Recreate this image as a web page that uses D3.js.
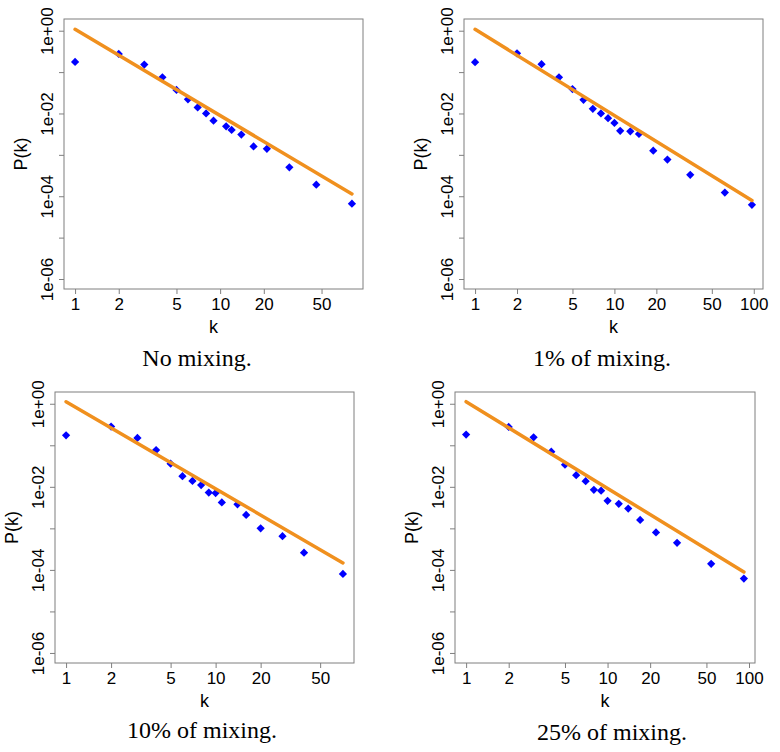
<!DOCTYPE html>
<html>
<head>
    <meta charset="utf-8">
    <title>Degree distribution P(k) under mixing</title>
    <script src="https://d3js.org/d3.v7.min.js"></script>
    <style>
        body { margin: 0; background: white; }
        svg { display: block; }
    </style>
</head>
<body>
<svg width="780" height="752"></svg>
<script>
    // Degree k and observed P(k), one pair of arrays per panel
    const k1 = [1, 2, 3, 4, 5, 6, 7, 8, 9, 11, 12, 14, 17, 21, 30, 46, 81];
    const p1 = [0.176, 0.275, 0.152, 0.075, 0.037, 0.022, 0.014, 0.010, 0.0067, 0.0049, 0.0040, 0.0031, 0.0016, 0.0014, 0.0005, 0.00019, 0.000066];

    const k2 = [1, 2, 3, 4, 5, 6, 7, 8, 9, 10, 11, 13, 15, 19, 24, 35, 62, 97];
    const p2 = [0.173, 0.285, 0.155, 0.075, 0.039, 0.0214, 0.013, 0.010, 0.0077, 0.0059, 0.0038, 0.0037, 0.0032, 0.00126, 0.00077, 0.00033, 0.000123, 0.000062];

    const k3 = [1, 2, 3, 4, 5, 6, 7, 8, 9, 10, 11, 14, 16, 20, 28, 39, 71];
    const p3 = [0.174, 0.282, 0.150, 0.077, 0.036, 0.018, 0.0139, 0.011, 0.0073, 0.0071, 0.0042, 0.0038, 0.0021, 0.0010, 0.00065, 0.00026, 0.00008];

    const k4 = [1, 2, 3, 4, 5, 6, 7, 8, 9, 10, 12, 14, 17, 22, 31, 54, 92];
    const p4 = [0.181, 0.277, 0.156, 0.070, 0.034, 0.019, 0.0137, 0.0085, 0.0081, 0.0046, 0.0039, 0.0030, 0.0016, 0.0008, 0.00045, 0.00014, 0.000062];

    // Fitted power-law lines (end points)
    const fitK1 = [1, 81], fitP1 = [1.08, 1.14e-4];
    const fitK2 = [1, 97], fitP2 = [1.08, 7.9e-5];
    const fitK3 = [1, 71], fitP3 = [1.12, 1.47e-4];
    const fitK4 = [1, 92], fitP4 = [1.12, 8.9e-5];

    // Tick values and labels
    const xTicksSmall = [1, 2, 5, 10, 20, 50];
    const xTicksLarge = [1, 2, 5, 10, 20, 50, 100];
    const yTicks = [1, 1e-1, 1e-2, 1e-3, 1e-4, 1e-5, 1e-6];
    const yTickLabels = { 0: "1e+00", 2: "1e-02", 4: "1e-04", 6: "1e-06" };
    const yLim = [1e-6, 1.1];

    const captions = ["No mixing.", "1% of mixing.", "10% of mixing.", "25% of mixing."];

    // Layout of each panel (plot box in page pixels, caption position)
    const panels = [
        { k: k1, p: p1, fk: fitK1, fp: fitP1, xt: xTicksSmall, cap: captions[0],
          box: [64, 19, 363, 289], capX: 197, capY: 366 },
        { k: k2, p: p2, fk: fitK2, fp: fitP2, xt: xTicksLarge, cap: captions[1],
          box: [464, 19, 763, 289], capX: 602, capY: 366 },
        { k: k3, p: p3, fk: fitK3, fp: fitP3, xt: xTicksSmall, cap: captions[2],
          box: [55, 392, 354, 663], capX: 202, capY: 738 },
        { k: k4, p: p4, fk: fitK4, fp: fitP4, xt: xTicksLarge, cap: captions[3],
          box: [455, 392, 755, 663], capX: 612, capY: 740 }
    ];

    const svg = d3.select("svg");
    const boxColor = "#7f7f7f";
    const sans = "Liberation Sans, Arial, sans-serif";
    const serif = "Liberation Serif, Times New Roman, serif";

    // R-style 4% padding on a log range
    function padLog(lo, hi) {
        const a = Math.log10(lo), b = Math.log10(hi), d = (b - a) * 0.04;
        return [Math.pow(10, a - d), Math.pow(10, b + d)];
    }

    panels.forEach(pn => {
        const [x0, y0, x1, y1] = pn.box;

        const x = d3.scaleLog()
            .domain(padLog(d3.min(pn.k), d3.max(pn.k)))
            .range([x0, x1]);
        const y = d3.scaleLog()
            .domain(padLog(yLim[0], yLim[1]))
            .range([y1, y0]);

        const g = svg.append("g");

        // x axis
        const xAxis = g.append("g")
            .attr("transform", `translate(0,${y1})`)
            .call(d3.axisBottom(x).tickValues(pn.xt).tickFormat(d3.format("d"))
                .tickSize(5).tickSizeOuter(0).tickPadding(4));
        xAxis.attr("font-family", sans).attr("font-size", 17);
        xAxis.select(".domain").remove();
        xAxis.selectAll(".tick line").attr("stroke", boxColor);
        xAxis.selectAll(".tick text").attr("fill", "#000");

        // y axis with rotated labels
        const yAxis = g.append("g")
            .attr("transform", `translate(${x0},0)`)
            .call(d3.axisLeft(y).tickValues(yTicks)
                .tickFormat((d, j) => yTickLabels[j] || "")
                .tickSize(5).tickSizeOuter(0));
        yAxis.attr("font-family", sans).attr("font-size", 17);
        yAxis.select(".domain").remove();
        yAxis.selectAll(".tick line").attr("stroke", boxColor);
        yAxis.selectAll(".tick text")
            .attr("fill", "#000")
            .attr("x", null).attr("dy", null)
            .attr("text-anchor", "middle")
            .attr("transform", "translate(-11,0) rotate(-90)");

        // data points (filled diamonds)
        g.append("g").selectAll("path")
            .data(pn.k.map((kv, j) => ({ k: kv, p: pn.p[j] })))
            .join("path")
            .attr("d", d3.symbol(d3.symbolSquare, 34))
            .attr("transform", d => `translate(${x(d.k)},${y(d.p)}) rotate(45)`)
            .attr("fill", "#0000ff");

        // fitted line
        g.append("path")
            .datum(pn.fk.map((kv, j) => ({ k: kv, p: pn.fp[j] })))
            .attr("fill", "none")
            .attr("stroke", "#f0901e")
            .attr("stroke-width", 3.5)
            .attr("stroke-linecap", "round")
            .attr("d", d3.line().x(d => x(d.k)).y(d => y(d.p)));

        // plot box
        g.append("rect")
            .attr("x", x0).attr("y", y0)
            .attr("width", x1 - x0).attr("height", y1 - y0)
            .attr("fill", "none")
            .attr("stroke", boxColor);

        // axis labels
        g.append("text")
            .attr("font-family", sans).attr("font-size", 18)
            .attr("x", (x0 + x1) / 2).attr("y", y1 + 44)
            .attr("text-anchor", "middle")
            .text("k");
        g.append("text")
            .attr("font-family", sans).attr("font-size", 18)
            .attr("transform", `translate(${x0 - 37},${(y0 + y1) / 2}) rotate(-90)`)
            .attr("text-anchor", "middle")
            .text("P(k)");

        // caption under the panel
        g.append("text")
            .attr("font-family", serif).attr("font-size", 24)
            .attr("x", pn.capX).attr("y", pn.capY)
            .attr("text-anchor", "middle")
            .text(pn.cap);
    });
</script>
</body>
</html>
